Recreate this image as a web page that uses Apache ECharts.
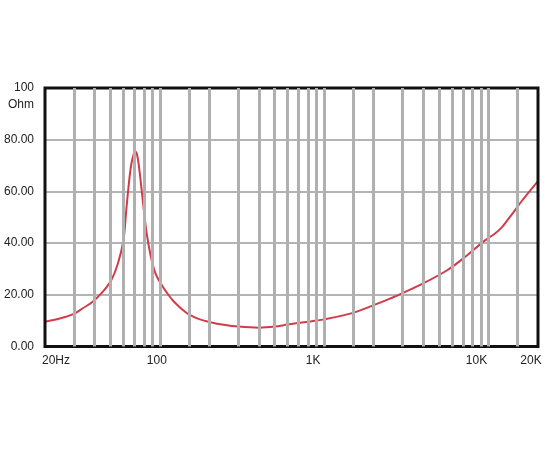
<!DOCTYPE html>
<html>
<head>
<meta charset="utf-8">
<script src="https://cdn.jsdelivr.net/npm/echarts@6/dist/echarts.min.js"></script>
<style>
html,body{margin:0;padding:0;background:#fff;}
#chart{width:550px;height:450px;}
</style>
</head>
<body>
<div id="chart"></div>
<script>
// Impedance curve: frequency (Hz) and impedance (Ohm)
var freqs = [20, 24.6, 30, 34, 39, 45, 50.5, 55.5, 60, 62.5, 65, 67, 69, 70.5, 72, 73.5, 75.5, 79.5, 83, 88, 94, 104, 112, 120, 131, 140, 150, 170, 200, 250, 300, 400, 500, 600, 800, 1000, 1500, 2000, 2800, 4000, 5600, 7200, 9000, 10000, 11000, 12000, 13000, 14400, 15800, 17500, 20000];
var ohms  = [9.6, 10.8, 12.6, 14.8, 17.3, 21.2, 25.5, 32, 41, 53, 64, 70.5, 74, 75.4, 75, 72.5, 67, 54, 44, 35, 28.3, 23.2, 20.2, 17.8, 15.4, 13.8, 12.4, 10.8, 9.5, 8.3, 7.7, 7.3, 7.7, 8.5, 9.6, 10.5, 13, 16, 19.8, 24.4, 29.5, 34.6, 39.8, 42, 43.8, 46, 48.8, 52.5, 56, 59.5, 64];
// Vertical grid lines (Hz)
var gridFreqs = [30, 40, 50, 60, 70, 80, 90, 100, 150, 200, 300, 400, 500, 600, 700, 800, 900, 1000, 1500, 2000, 3000, 4000, 5000, 6000, 7000, 8000, 9000, 10000, 15000];
// Axis labels
var xTickLabels = {20: '20Hz', 100: '100', 1000: '1K', 10000: '10K', 20000: '20K'};
var yUnit = 'Ohm';

var xLabelStyle = {
  '20Hz': 'l', '100': 'a', '1K': 'b', '10K': 'c', '20K': 'd'
};

var chart = echarts.init(document.getElementById('chart'), null, {renderer: 'canvas'});
var points = freqs.map(function (f, i) { return [f, ohms[i]]; });

chart.setOption({
  animation: false,
  backgroundColor: '#ffffff',
  textStyle: {fontFamily: '"Liberation Sans", Arial, sans-serif'},
  grid: {
    left: 45, right: 12, top: 88, bottom: 103.5,
    show: true, borderColor: '#111', borderWidth: 3, backgroundColor: 'transparent', z: 5
  },
  xAxis: {
    type: 'log', logBase: 10, min: 20, max: 20000,
    axisLine: {show: false},
    axisTick: {show: false},
    splitLine: {show: false},
    minorTick: {show: false},
    axisLabel: {
      show: true, showMinLabel: true, showMaxLabel: true,
      margin: 8, color: '#222', fontSize: 12,
      formatter: function (v) {
        var key = Math.round(v);
        var t = xTickLabels[key];
        if (!t) return '';
        return '{' + xLabelStyle[t] + '|' + t + '}';
      },
      rich: {
        l: {padding: [0, 0, 0, 22], fontSize: 12, color: '#222'},
        a: {padding: [0, 6, 0, 0], fontSize: 12, color: '#222'},
        b: {padding: [0, 22, 0, 0], fontSize: 12, color: '#222'},
        c: {padding: [0, 24, 0, 0], fontSize: 12, color: '#222'},
        d: {padding: [0, 14, 0, 0], fontSize: 12, color: '#222'}
      }
    }
  },
  yAxis: {
    type: 'value', min: 0, max: 100, interval: 20,
    axisLine: {show: false},
    axisTick: {show: false},
    splitLine: {show: true, lineStyle: {color: '#b4b4b4', width: 2}},
    axisLabel: {
      margin: 11, color: '#222', fontSize: 12,
      formatter: function (v) {
        if (v === 100) return '{s| }\n{n|100}\n{n|' + yUnit + '}';
        return v.toFixed(2);
      },
      rich: {
        s: {lineHeight: 17, fontSize: 12},
        n: {lineHeight: 17, fontSize: 12, color: '#222', align: 'right'}
      }
    }
  },
  series: [
    {
      type: 'line', data: [], z: 1, silent: true,
      markLine: {
        silent: true, symbol: 'none', animation: false,
        label: {show: false},
        lineStyle: {color: '#b0b0b0', width: 3, type: 'solid'},
        data: gridFreqs.map(function (f) { return {xAxis: f}; })
      }
    },
    {
      type: 'line', data: points, z: 3,
      showSymbol: false, smooth: 0.35,
      lineStyle: {color: '#d03c4a', width: 2}
    }
  ]
});
</script>
</body>
</html>
